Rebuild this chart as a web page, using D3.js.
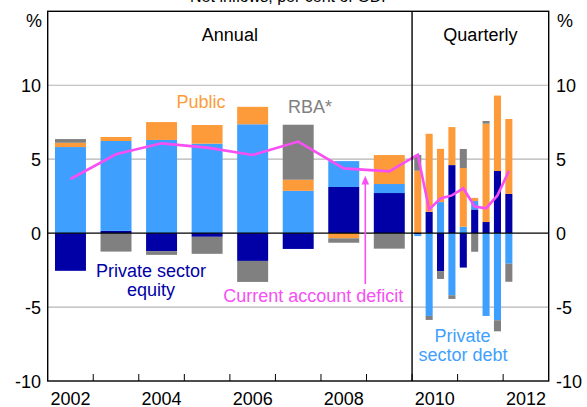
<!DOCTYPE html>
<html>
<head>
<meta charset="utf-8">
<script src="https://cdn.jsdelivr.net/npm/d3@7"></script>
<style>
  html, body { margin: 0; padding: 0; background: #fff; }
  svg { display: block; font-family: "Liberation Sans", Arial, sans-serif; }
</style>
</head>
<body>
<svg id="chart" width="587" height="407"></svg>
<script>
// Net capital inflows by sector, per cent of GDP
const annualYears   = [2002, 2003, 2004, 2005, 2006, 2007, 2008, 2009];
const annualEquity  = [-2.55, 0.15, -1.22, -0.25, -1.88, -1.07, 3.12, 2.71];
const annualDebt    = [5.82, 6.08, 6.30, 6.05, 7.36, 2.86, 1.75, 0.61];
const annualPublic  = [0.29, 0.27, 1.21, 1.26, 1.18, 0.75, -0.35, 1.96];
const annualRBA     = [0.25, -1.25, -0.25, -1.15, -1.42, 3.72, -0.30, -1.05];
const annualCAD     = [3.66, 5.33, 6.07, 5.78, 5.28, 6.19, 4.38, 4.18];

const quarters       = ["2010Q1", "2010Q2", "2010Q3", "2010Q4", "2011Q1", "2011Q2", "2011Q3", "2011Q4", "2012Q1"];
const quarterEquity  = [-0.07, 1.44, -2.57, 4.60, -2.33, 1.60, 0.75, 4.20, 2.65];
const quarterDebt    = [-0.13, -5.60, 2.10, -4.20, 0.43, 0.57, -5.60, -5.89, -2.07];
const quarterPublic  = [4.22, 5.28, 3.60, 2.57, 3.97, 0.21, 6.65, 5.10, 5.07];
const quarterRBA     = [1.07, -0.27, -0.53, -0.25, 1.29, -1.26, 0.18, -0.75, -1.22];
const quarterCAD     = [5.30, 1.60, 2.35, 2.55, 3.03, 1.80, 1.68, 2.55, 4.20];

const yTicks = [-10, -5, 0, 5, 10];
const yearLabels = [2002, 2004, 2006, 2008, 2010, 2012];

const seriesKeys = ["equity", "debt", "public", "rba"];
const seriesColors = { equity: "#0000a6", debt: "#3f9fff", public: "#fd9b3b", rba: "#808080" };
const cadColor = "#f84ff4";

const svg = d3.select("#chart");
const plot = { left: 47.7, right: 548.7, top: 11.3, bottom: 381 };

const x = d3.scaleLinear().domain([2002, 2013]).range([plot.left, plot.right]);
const y = d3.scaleLinear().domain([-10, 15]).range([plot.bottom, plot.top]);

// Rows: annual bars centred on mid-year, quarterly bars centred on mid-quarter
const quarterPos = q => +q.slice(0, 4) + (+q.slice(5) - 1) * 0.25 + 0.125;
const rows = [];
annualYears.forEach((yr, i) => rows.push({
  t: yr + 0.5, w: 0.68,
  equity: annualEquity[i], debt: annualDebt[i], public: annualPublic[i], rba: annualRBA[i], cad: annualCAD[i]
}));
quarters.forEach((q, i) => rows.push({
  t: quarterPos(q), w: 0.155,
  equity: quarterEquity[i], debt: quarterDebt[i], public: quarterPublic[i], rba: quarterRBA[i], cad: quarterCAD[i]
}));

// Subtitle line, running off the top of the page
svg.append("text").attr("x", 291).attr("y", 1.5).attr("text-anchor", "middle")
  .attr("font-size", 16).attr("fill", "#000").text("Net inflows, per cent of GDP");

// Gridlines
svg.append("g").selectAll("line").data(yTicks.filter(v => v !== 0 && v !== -10)).join("line")
  .attr("x1", plot.left).attr("x2", plot.right)
  .attr("y1", d => y(d)).attr("y2", d => y(d))
  .attr("stroke", "#b4b4b4").attr("stroke-width", 1.2);

// Stacked bars
const stack = d3.stack().keys(seriesKeys).offset(d3.stackOffsetDiverging);
const stacked = stack(rows);
svg.append("g").selectAll("g").data(stacked).join("g")
  .attr("fill", d => seriesColors[d.key])
  .selectAll("rect").data(d => d).join("rect")
  .attr("x", d => x(d.data.t - d.data.w / 2))
  .attr("width", d => x(d.data.t + d.data.w / 2) - x(d.data.t - d.data.w / 2))
  .attr("y", d => y(Math.max(d[0], d[1])))
  .attr("height", d => Math.abs(y(d[0]) - y(d[1])));

// Zero line
svg.append("line").attr("x1", plot.left).attr("x2", plot.right)
  .attr("y1", y(0)).attr("y2", y(0)).attr("stroke", "#000").attr("stroke-width", 1.4);

// Current account deficit line
const line = d3.line().x(d => x(d.t)).y(d => y(d.cad));
svg.append("path").datum(rows).attr("d", line)
  .attr("fill", "none").attr("stroke", cadColor).attr("stroke-width", 2.6)
  .attr("stroke-linejoin", "miter");

// Frame and annual/quarterly divider
svg.append("rect").attr("x", plot.left).attr("y", plot.top)
  .attr("width", plot.right - plot.left).attr("height", plot.bottom - plot.top)
  .attr("fill", "none").attr("stroke", "#000").attr("stroke-width", 1.4);
svg.append("line").attr("x1", x(2010)).attr("x2", x(2010))
  .attr("y1", plot.top).attr("y2", plot.bottom).attr("stroke", "#000").attr("stroke-width", 1.4);

// Year boundary ticks along the bottom
svg.append("g").selectAll("line").data(d3.range(2003, 2013)).join("line")
  .attr("x1", d => x(d)).attr("x2", d => x(d))
  .attr("y1", plot.bottom).attr("y2", plot.bottom - 7)
  .attr("stroke", "#000").attr("stroke-width", 1);

// Axis labels
const fs = 18;
svg.append("g").selectAll("text").data(yTicks).join("text")
  .attr("x", 41).attr("y", d => y(d) + 6.5).attr("text-anchor", "end")
  .attr("font-size", fs).text(d => d);
svg.append("g").selectAll("text").data(yTicks).join("text")
  .attr("x", 556).attr("y", d => y(d) + 6.5).attr("text-anchor", "start")
  .attr("font-size", fs).text(d => d);
svg.append("text").attr("x", 42).attr("y", 27).attr("text-anchor", "end").attr("font-size", fs).text("%");
svg.append("text").attr("x", 557).attr("y", 27).attr("text-anchor", "start").attr("font-size", fs).text("%");
svg.append("g").selectAll("text").data(yearLabels).join("text")
  .attr("x", d => x(d + 0.5)).attr("y", 404.5).attr("text-anchor", "middle")
  .attr("font-size", fs).text(d => d);

// Panel headings
svg.append("text").attr("x", (plot.left + x(2010)) / 2).attr("y", 40.5)
  .attr("text-anchor", "middle").attr("font-size", fs).text("Annual");
svg.append("text").attr("x", (x(2010) + plot.right) / 2).attr("y", 40.5)
  .attr("text-anchor", "middle").attr("font-size", fs).text("Quarterly");

// Series labels
const label = (txt, px, py, color) => svg.append("text").attr("x", px).attr("y", py)
  .attr("text-anchor", "middle").attr("font-size", fs).attr("fill", color).text(txt);
label("Public", 201, 108, seriesColors.public);
label("RBA*", 310, 112.5, seriesColors.rba);
label("Private sector", 151, 276.5, seriesColors.equity);
label("equity", 151, 296, seriesColors.equity);
label("Current account deficit", 313.3, 302, cadColor);
label("Private", 462.5, 341.7, seriesColors.debt);
label("sector debt", 463, 360.7, seriesColors.debt);

// Arrow from the deficit label up to its line
const ax = 365.3;
svg.append("line").attr("x1", ax).attr("x2", ax).attr("y1", 284).attr("y2", 182)
  .attr("stroke", cadColor).attr("stroke-width", 1.6);
svg.append("path").attr("d", `M${ax},175.7 L${ax - 3.8},184.5 L${ax + 3.8},184.5 Z`).attr("fill", cadColor);
</script>
</body>
</html>
